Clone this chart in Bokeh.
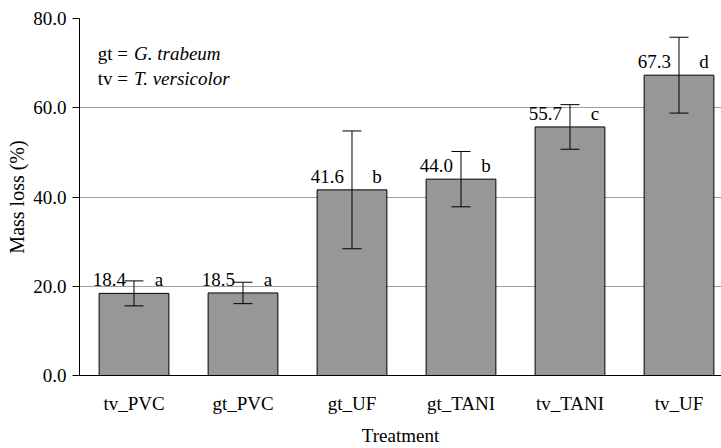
import numpy as np
from bokeh.plotting import figure
from bokeh.models import (ColumnDataSource, Whisker, TeeHead, FixedTicker,
                          PrintfTickFormatter, Label, Range1d)
from bokeh.core.properties import value
from bokeh.embed import file_html
from bokeh.resources import INLINE

# ---- data ----
treatments = ["tv_PVC", "gt_PVC", "gt_UF", "gt_TANI", "tv_TANI", "tv_UF"]
mass_loss = [18.4, 18.5, 41.6, 44.0, 55.7, 67.3]
errors = [2.8, 2.4, 13.2, 6.2, 5.0, 8.5]
groups = ["a", "a", "b", "b", "c", "d"]
y_ticks = [0, 20, 40, 60, 80]

FONT = "Liberation Serif"
FS = "19px"

xpos = (np.arange(len(treatments)) + 0.5).tolist()
src = ColumnDataSource(dict(
    x=xpos,
    top=mass_loss,
    upper=[m + e for m, e in zip(mass_loss, errors)],
    lower=[m - e for m, e in zip(mass_loss, errors)],
    label=[f"{m:.1f}" for m in mass_loss],
    grp=groups,
))

p = figure(width=721, height=448, output_backend="svg", toolbar_location=None,
           x_range=Range1d(0, 5.89), y_range=Range1d(0, 80),
           min_border_left=79, min_border_right=0, min_border_top=18,
           min_border_bottom=71)
p.outline_line_color = None
p.background_fill_color = "white"

p.vbar(x="x", top="top", width=0.64, source=src, fill_color="#979797",
       line_color="black", line_width=1)

w = Whisker(source=src, base="x", upper="upper", lower="lower",
            line_color="black", line_width=1, level="overlay",
            upper_head=TeeHead(size=19, line_color="black", line_width=1),
            lower_head=TeeHead(size=19, line_color="black", line_width=1))
p.add_layout(w)

p.text(x="x", y="top", text="label", source=src, text_align="right",
       text_baseline="bottom", x_offset=-8, y_offset=-7,
       text_font=value(FONT), text_font_size=FS, text_color="black")
p.text(x="x", y="top", text="grp", source=src, text_align="center",
       text_baseline="bottom", x_offset=25, y_offset=-3,
       text_font=value(FONT), text_font_size=FS, text_color="black")

# notes
for txt, y in (("gt =", 72.13), ("tv =", 66.56)):
    p.add_layout(Label(x=0.167, y=y, text=txt, text_font=FONT, text_font_size=FS,
                       text_baseline="alphabetic", text_color="black"))
for txt, y in (("G. trabeum", 72.13), ("T. versicolor", 66.56)):
    p.add_layout(Label(x=0.5, y=y, text=txt, text_font=FONT, text_font_size=FS,
                       text_font_style="italic", text_baseline="alphabetic",
                       text_color="black"))

# x axis
xa = p.xaxis[0]
xa.ticker = FixedTicker(ticks=xpos)
xa.major_label_overrides = {x: t for x, t in zip(xpos, treatments)}
xa.major_tick_out = 0
xa.major_tick_in = 0
xa.minor_tick_out = 0
xa.minor_tick_in = 0
xa.major_label_standoff = 17
xa.major_label_text_font = FONT
xa.major_label_text_font_size = FS
xa.major_label_text_color = "black"
xa.axis_label = "Treatment"
xa.axis_label_text_font = FONT
xa.axis_label_text_font_size = FS
xa.axis_label_text_font_style = "normal"
xa.axis_label_text_color = "black"
xa.axis_label_standoff = 8
xa.axis_line_color = "black"

# y axis
ya = p.yaxis[0]
ya.ticker = FixedTicker(ticks=y_ticks)
ya.formatter = PrintfTickFormatter(format="%.1f")
ya.major_tick_out = 7
ya.major_tick_in = 0
ya.minor_tick_out = 0
ya.minor_tick_in = 0
ya.major_tick_line_color = "black"
ya.major_label_standoff = 6
ya.major_label_text_font = FONT
ya.major_label_text_font_size = FS
ya.major_label_text_color = "black"
ya.axis_label = "Mass loss (%)"
ya.axis_label_text_font = FONT
ya.axis_label_text_font_size = "20px"
ya.axis_label_text_font_style = "normal"
ya.axis_label_text_color = "black"
ya.axis_label_standoff = 2
ya.axis_line_color = "black"

p.xgrid.visible = False
p.ygrid.ticker = FixedTicker(ticks=y_ticks)
p.ygrid.grid_line_color = "#a0a0a0"
p.ygrid.grid_line_width = 1

open("out.html", "w").write(file_html(p, INLINE))
